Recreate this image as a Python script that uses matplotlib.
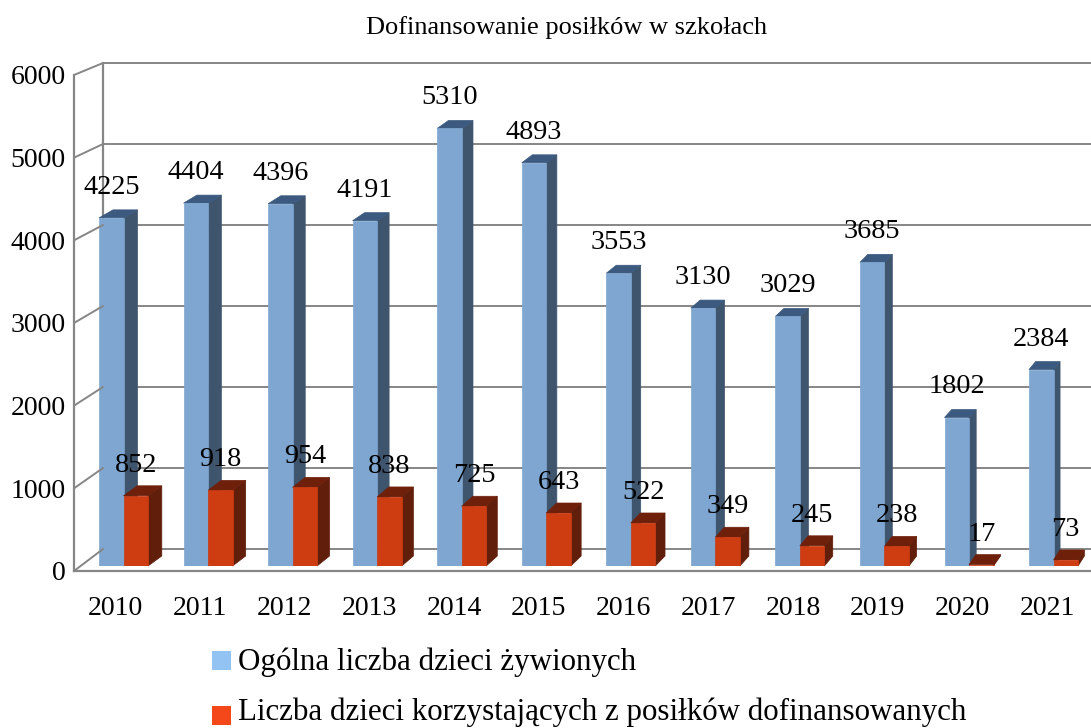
import matplotlib
matplotlib.use('Agg')
import matplotlib.pyplot as plt
from matplotlib.patches import ConnectionPatch, Rectangle

years = ['2010', '2011', '2012', '2013', '2014', '2015', '2016', '2017', '2018', '2019', '2020', '2021']
total_children = [4225, 4404, 4396, 4191, 5310, 4893, 3553, 3130, 3029, 3685, 1802, 2384]
subsidised_children = [852, 918, 954, 838, 725, 643, 522, 349, 245, 238, 17, 73]
y_ticks = [0, 1000, 2000, 3000, 4000, 5000, 6000]
title_text = 'Dofinansowanie posiłków w szkołach'
legend_names = ['Ogólna liczba dzieci żywionych', 'Liczba dzieci korzystających z posiłków dofinansowanych']

plt.rcParams['font.family'] = ['Liberation Serif', 'DejaVu Serif']

W, H = 1091, 728
GRAY = '#868686'

fig = plt.figure(figsize=(W / 100, H / 100), dpi=100)

def px_axes(left, right, top, bottom):
    ax = fig.add_axes([left / W, 1 - bottom / H, (right - left) / W, (bottom - top) / H])
    ax.patch.set_alpha(0)
    return ax

# back wall of the fake 3d box
wall = px_axes(103, W, 63, 549)
wall.set_ylim(0, 6000)
wall.set_xlim(0, 1)
wall.set_yticks(y_ticks)
wall.set_xticks([])
wall.tick_params(length=0, labelleft=False)
wall.grid(axis='y', color=GRAY, lw=1.4, clip_on=False)
wall.set_axisbelow(True)
for s in ['right', 'bottom', 'top']:
    wall.spines[s].set_visible(False)
wall.spines['left'].set_color(GRAY)
wall.spines['left'].set_linewidth(1.6)

# front plane carries the tick labels
front = px_axes(74, W, 75, 571)
front.set_ylim(0, 6000)
front.set_xlim((74 - 115) / 84.75, (W - 115) / 84.75)
front.set_yticks(y_ticks)
front.set_xticks(range(len(years)))
front.set_xticklabels(years)
front.tick_params(axis='y', length=0, pad=6, labelsize=20)
front.tick_params(axis='x', length=0, pad=18, labelsize=20)
for s in ['right', 'top']:
    front.spines[s].set_visible(False)
for s in ['left', 'bottom']:
    front.spines[s].set_color(GRAY)
    front.spines[s].set_linewidth(1.6)

for v in y_ticks:
    link = ConnectionPatch(xyA=(0, v), coordsA=front.get_yaxis_transform(),
                           xyB=(0, v), coordsB=wall.get_yaxis_transform(),
                           color=GRAY, lw=1.4)
    fig.add_artist(link)

# bars
PITCH = 84.55
ax = px_axes(0, W, 71.6, 566)
ax.set_xlim(-99 / PITCH, (W - 99) / PITCH)
ax.set_ylim(0, 6000)
ax.axis('off')

bar_w = 24.5 / PITCH
px_per_val = 82.4 / 1000

def draw_bar(x, val, front_c, side_c, top_c, depth_px):
    dy = depth_px / px_per_val
    # side faces get narrower to the right, vanishing point sits past the chart
    dx = (14 - 0.68 * x) / PITCH
    ax.fill([x + bar_w, x + bar_w + dx, x + bar_w + dx, x + bar_w],
            [0, dy, val + dy, val], color=side_c, lw=0.5, clip_on=False, zorder=3)
    ax.fill([x, x + dx, x + bar_w + dx, x + bar_w],
            [val, val + dy, val + dy, val], color=top_c, lw=0.5, clip_on=False, zorder=3)
    ax.bar(x, val, bar_w, align='edge', color=front_c, edgecolor=front_c, lw=0.5, zorder=3)

for i in range(len(years)):
    draw_bar(i, total_children[i], '#7EA6D0', '#3F556E', '#3C5A80', 8)
    draw_bar(i + bar_w, subsidised_children[i], '#CE3C12', '#611E0A', '#6E200B', 10)
    ax.annotate(str(total_children[i]), (i + bar_w / 2, total_children[i]), xytext=(0, 22),
                textcoords='offset points', ha='center', va='center', fontsize=20.3, zorder=5)
    ax.annotate(str(subsidised_children[i]), (i + bar_w * 1.5, subsidised_children[i]), xytext=(0, 22),
                textcoords='offset points', ha='center', va='center', fontsize=20.3, zorder=5)

fig.text(567 / W, 1 - 28 / H, title_text, ha='center', va='center', fontsize=19)

# legend drawn by hand, the original stacks the entries with wide gaps
for name, c, y, text_y in zip(legend_names, ['#93C3F3', '#F4481B'], [660, 715], [662, 712]):
    fig.add_artist(Rectangle((212 / W, 1 - (y + 9.5) / H), 19 / W, 19 / H, color=c,
                             transform=fig.transFigure, lw=0))
    fig.text(238 / W, 1 - text_y / H, name, ha='left', va='center', fontsize=22.3)

fig.savefig('out.png', dpi=100)
